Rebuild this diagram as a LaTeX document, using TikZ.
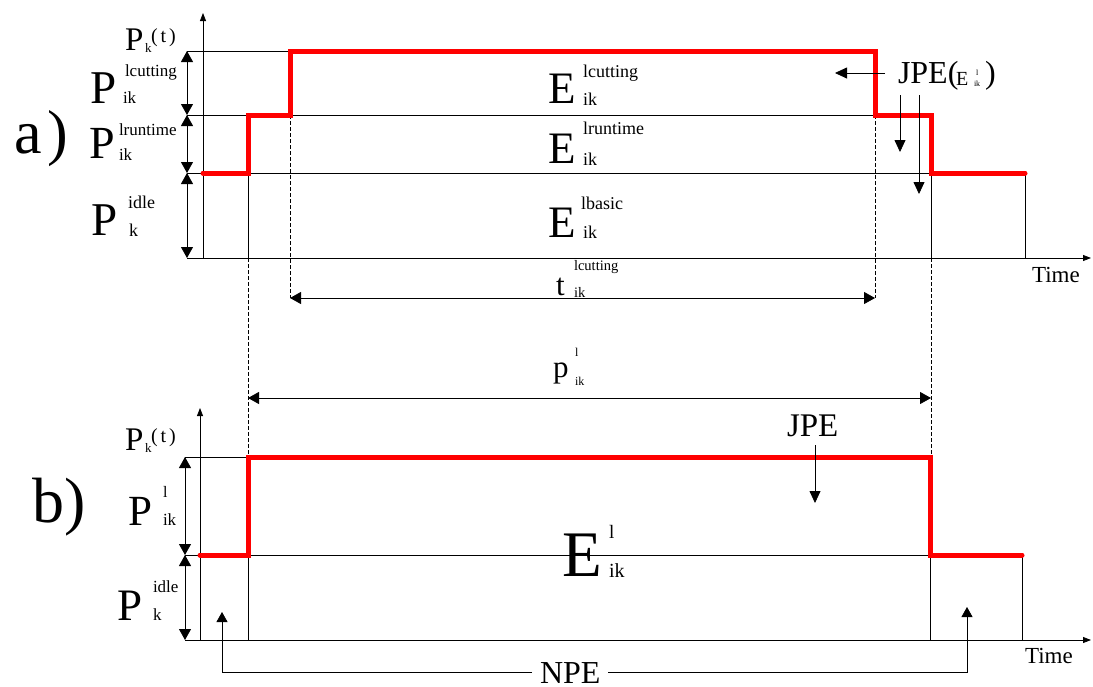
\documentclass[tikz,border=0pt]{standalone}
\usepackage{fontspec}
\setmainfont{Liberation Serif}
\usetikzlibrary{arrows.meta}
\newcommand\fs[1]{\fontsize{#1}{#1}\selectfont}
\begin{document}
\begin{tikzpicture}[x=1pt,y=-1pt,
  txt/.style={anchor=base west,inner sep=0pt,outer sep=0pt},
  thin line/.style={line width=0.8pt,black},
  redline/.style={line width=5pt,red,line cap=round,line join=miter},
  dashline/.style={line width=0.7pt,black,dash pattern=on 4pt off 2pt},
  dim/.style={line width=0.8pt,{Triangle[width=12pt,length=11pt]}-{Triangle[width=12pt,length=11pt]}},
  axisarrow/.style={line width=0.8pt,-{Triangle[width=6pt,length=8pt]}},
  downarrow/.style={line width=0.8pt,-{Triangle[width=11pt,length=12pt]}},
  uparrow/.style={line width=0.8pt,-{Triangle[width=11pt,length=10pt]}}]
\useasboundingbox (0,0) rectangle (1093,686);

% ---------------- panel a ----------------
\coordinate (a0) at (203,258);
\coordinate (aY) at (203,13);
\coordinate (aX) at (1091,258);
\coordinate (L1) at (187,51);
\coordinate (L2) at (187,115);
\coordinate (L3) at (187,173);
\coordinate (L4) at (187,258);
\coordinate (r1) at (203,173);
\coordinate (r2) at (248,173);
\coordinate (r3) at (248,115);
\coordinate (r4) at (290,115);
\coordinate (r5) at (290,51);
\coordinate (r6) at (875,51);
\coordinate (r7) at (875,115);
\coordinate (r8) at (931,115);
\coordinate (r9) at (931,173);
\coordinate (r10) at (1025,173);
\coordinate (b248) at (248,258);
\coordinate (b931) at (931,258);
\coordinate (b1025) at (1025,258);
\coordinate (t1) at (290,298);
\coordinate (t2) at (875,298);
\coordinate (p1) at (248,398);
\coordinate (p2) at (931,398);
\coordinate (d248) at (248,457);
\coordinate (d931) at (931,457);

\draw[thin line] (L1) -- (r5);
\draw[thin line] (L2) -- (r7);
\draw[thin line] (L3) -- (r9);
\draw[axisarrow] (L4) -- (aX);
\draw[axisarrow] (a0) -- (aY);
\draw[thin line] (r2) -- (b248);
\draw[thin line] (r9) -- (b931);
\draw[thin line] (r10) -- (b1025);
\draw[dashline] (r4) -- (t1);
\draw[dashline] (r7) -- (t2);
\draw[dashline] (b248) -- (d248);
\draw[dashline] (b931) -- (d931);
\draw[dim] (L1) -- (L2);
\draw[dim] (L2) -- (L3);
\draw[dim] (L3) -- (L4);
\draw[dim] (t1) -- (t2);
\draw[dim] (p1) -- (p2);
\draw[redline] (r1) -- (r2) -- (r3) -- (r4) -- (r5) -- (r6) -- (r7) -- (r8) -- (r9) -- (r10);

% JPE(E) arrows
\coordinate (j1) at (885,73);
\coordinate (j2) at (835,73);
\coordinate (j3) at (900,95);
\coordinate (j4) at (900,152);
\coordinate (j5) at (919,95);
\coordinate (j6) at (919,194);
\draw[downarrow] (j1) -- (j2);
\draw[downarrow] (j3) -- (j4);
\draw[downarrow] (j5) -- (j6);

% labels panel a
\node[txt] (aPk) at (125,50) {\fs{33}P};
\node[txt] (aPkk) at (145,52) {\fs{13}k};
\node[txt] (aPkt) at (151,42) {\fs{20}(\kern3pt t\kern3pt)};
\node[txt] (aPc) at (90,103) {\fs{47}P};
\node[txt] (aPcs) at (125,76.6) {\fs{17}lcutting};
\node[txt] (aPci) at (123,103) {\fs{17}ik};
\node[txt] (alab) at (15,153) {\fs{62}a\kern5pt)};
\node[txt] (aPr) at (89,158) {\fs{46}P};
\node[txt] (aPrs) at (119,135) {\fs{17}lruntime};
\node[txt] (aPri) at (119,160) {\fs{17}ik};
\node[txt] (aPi) at (91,235) {\fs{47}P};
\node[txt] (aPis) at (128,208) {\fs{18}idle};
\node[txt] (aPik) at (129,236) {\fs{18}k};
\node[txt] (aEc) at (548,103) {\fs{45}E};
\node[txt] (aEcs) at (583,77) {\fs{18}lcutting};
\node[txt] (aEci) at (583,105) {\fs{18}ik};
\node[txt] (aEr) at (548,163) {\fs{45}E};
\node[txt] (aErs) at (583,134) {\fs{18}lruntime};
\node[txt] (aEri) at (583,165) {\fs{18}ik};
\node[txt] (aEb) at (548,237) {\fs{45}E};
\node[txt] (aEbs) at (581,209) {\fs{18}lbasic};
\node[txt] (aEbi) at (583,238) {\fs{18}ik};
\node[txt] (at) at (556,295) {\fs{31}t};
\node[txt] (ats) at (574,270) {\fs{14.5}lcutting};
\node[txt] (ati) at (574,297) {\fs{14.5}ik};
\node[txt] (ap) at (553,377) {\fs{31}p};
\node[txt] (aps) at (575,356) {\fs{12}l};
\node[txt] (api) at (575,385) {\fs{12}ik};
\node[txt] (aJ) at (898,83) {\fs{32}JPE(};
\node[txt] (aJE) at (956,85) {\fs{20}E};
\node[txt] (aJs) at (976,75) {\fs{8}l};
\node[txt] (aJi) at (974,86) {\fs{8}ik};
\node[txt] (aJc) at (985,83) {\fs{32})};
\node[txt] (aTime) at (1032,282) {\fs{23}Time};

% ---------------- panel b ----------------
\coordinate (b0) at (200,640);
\coordinate (bY) at (200,408);
\coordinate (bX) at (1091,640);
\coordinate (M1) at (185,457);
\coordinate (M2) at (185,555);
\coordinate (M3) at (185,640);
\coordinate (s1) at (200,555);
\coordinate (s2) at (248,555);
\coordinate (s3) at (248,457);
\coordinate (s4) at (930,457);
\coordinate (s5) at (930,555);
\coordinate (s6) at (1022,555);
\coordinate (g248) at (248,640);
\coordinate (g930) at (930,640);
\coordinate (g1022) at (1022,640);

\draw[thin line] (M1) -- (s3);
\draw[thin line] (M2) -- (s5);
\draw[axisarrow] (M3) -- (bX);
\draw[axisarrow] (b0) -- (bY);
\draw[thin line] (s2) -- (g248);
\draw[thin line] (s5) -- (g930);
\draw[thin line] (s6) -- (g1022);
\draw[dim] (M1) -- (M2);
\draw[dim] (M2) -- (M3);
\draw[redline] (s1) -- (s2) -- (s3) -- (s4) -- (s5) -- (s6);

\coordinate (jb1) at (815,445);
\coordinate (jb2) at (815,503);
\draw[downarrow] (jb1) -- (jb2);

% labels panel b
\node[txt] (bPk) at (125,450) {\fs{33}P};
\node[txt] (bPkk) at (145,452) {\fs{13}k};
\node[txt] (bPkt) at (151,442) {\fs{20}(\kern3pt t\kern3pt)};
\node[txt] (blab) at (32,522) {\fs{64}b)};
\node[txt] (bPl) at (128,525) {\fs{43}P};
\node[txt] (bPls) at (163,497) {\fs{16}l};
\node[txt] (bPli) at (163,525) {\fs{17}ik};
\node[txt] (bPi) at (117,620) {\fs{45}P};
\node[txt] (bPis) at (153,592) {\fs{17}idle};
\node[txt] (bPik) at (153,620) {\fs{17}k};
\node[txt] (bE) at (562,576) {\fs{65}E};
\node[txt] (bEs) at (609,538) {\fs{19}l};
\node[txt] (bEi) at (609,577) {\fs{20}ik};
\node[txt] (bJ) at (787,436) {\fs{33}JPE};
\node[txt] (bNPE) at (540,683) {\fs{32}NPE};
\node[txt] (bTime) at (1025,663) {\fs{23}Time};

\coordinate (n1) at (222,612);
\coordinate (n2) at (967,607);
\draw[uparrow] ([xshift=-8pt]bNPE.west) -| (n1);
\draw[uparrow] ([xshift=8pt]bNPE.east) -| (n2);
\end{tikzpicture}
\end{document}
